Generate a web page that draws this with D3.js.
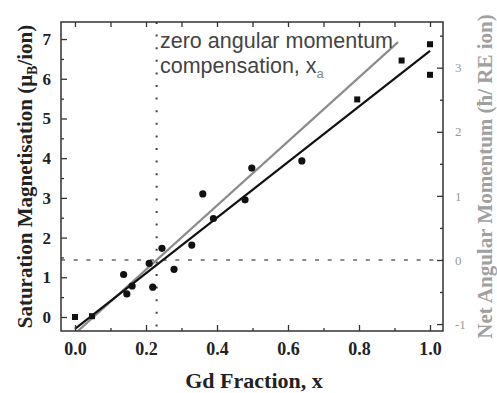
<!DOCTYPE html>
<html>
<head>
<meta charset="utf-8">
<script src="https://cdn.jsdelivr.net/npm/d3@7"></script>
<style>
  html, body { margin: 0; padding: 0; background: #fff; }
  svg { display: block; }
</style>
</head>
<body>
<svg id="chart" width="497" height="393"></svg>
<script>
// Gd fraction and measured saturation magnetisation (μB/ion)
const circleX = [0.137, 0.146, 0.161, 0.209, 0.219, 0.245, 0.279, 0.329, 0.360, 0.390, 0.479, 0.498, 0.639];
const circleY = [1.07, 0.58, 0.78, 1.35, 0.75, 1.73, 1.20, 1.81, 3.10, 2.48, 2.95, 3.75, 3.93];
const squareX = [0.0, 0.048, 0.795, 0.920, 1.0, 1.0];
const squareY = [0.0, 0.02, 5.48, 6.46, 6.87, 6.10];

// Linear fit of the magnetisation (left axis)
const fitX = [0.0, 1.0];
const fitY = [-0.30, 6.70];

// Net angular momentum (right axis)
const momX = [0.0, 0.91];
const momJ = [-1.15, 3.40];

// Compensation point
const xA = 0.23;

const xTicks = [0, 0.2, 0.4, 0.6, 0.8, 1.0];
const xMinorTicks = [0.1, 0.3, 0.5, 0.7, 0.9];
const yLeftTicks = [0, 1, 2, 3, 4, 5, 6, 7];
const yRightTicks = [-1, 0, 1, 2, 3];

const pL = 61, pR = 443, pT = 22, pB = 331;

const x = d3.scaleLinear().domain([-0.0394, 1.0366]).range([pL, pR]);
const yL = d3.scaleLinear().domain([-0.353, 7.43]).range([pB, pT]);
const yR = d3.scaleLinear().domain([-1.108, 3.713]).range([pB, pT]);

const svg = d3.select("#chart");
const axisCol = "#333";
const serif = "'Liberation Serif', 'Times New Roman', serif";
const sans = "'Liberation Sans', Arial, sans-serif";

svg.append("defs").append("clipPath").attr("id", "plotclip")
  .append("rect").attr("x", pL).attr("y", pT)
  .attr("width", pR - pL).attr("height", pB - pT);

const plot = svg.append("g").attr("clip-path", "url(#plotclip)");

// Reference lines: zero net momentum and compensation composition
plot.append("line")
  .attr("x1", pL).attr("x2", pR)
  .attr("y1", yR(0)).attr("y2", yR(0))
  .attr("stroke", "#666").attr("stroke-width", 1.6)
  .attr("stroke-dasharray", "4,8.7");
plot.append("line")
  .attr("x1", x(xA)).attr("x2", x(xA))
  .attr("y1", pT).attr("y2", pB)
  .attr("stroke", "#444").attr("stroke-width", 2)
  .attr("stroke-dasharray", "2,10.6");

// Angular momentum line (grey) and magnetisation fit (black)
plot.append("path")
  .datum(momX.map((v, i) => [v, momJ[i]]))
  .attr("d", d3.line().x(d => x(d[0])).y(d => yR(d[1])))
  .attr("fill", "none").attr("stroke", "#8c8c8c").attr("stroke-width", 2.2);
plot.append("path")
  .datum(fitX.map((v, i) => [v, fitY[i]]))
  .attr("d", d3.line().x(d => x(d[0])).y(d => yL(d[1])))
  .attr("fill", "none").attr("stroke", "#111").attr("stroke-width", 2.2);

// Data points
plot.selectAll("circle.pt").data(circleX.map((v, i) => [v, circleY[i]]))
  .join("circle").attr("class", "pt")
  .attr("cx", d => x(d[0])).attr("cy", d => yL(d[1]))
  .attr("r", 3.6).attr("fill", "#111");
plot.selectAll("rect.pt").data(squareX.map((v, i) => [v, squareY[i]]))
  .join("rect").attr("class", "pt")
  .attr("x", d => x(d[0]) - 3).attr("y", d => yL(d[1]) - 3)
  .attr("width", 6).attr("height", 6).attr("fill", "#111");

// Frame
svg.append("rect")
  .attr("x", pL).attr("y", pT).attr("width", pR - pL).attr("height", pB - pT)
  .attr("fill", "none").attr("stroke", axisCol).attr("stroke-width", 1.5);

function styleAxis(g) {
  g.select(".domain").remove();
  g.selectAll(".tick line").attr("stroke", axisCol).attr("stroke-width", 1.3);
}

// Bottom axis
svg.append("g").attr("transform", `translate(0,${pB})`)
  .call(d3.axisBottom(x).tickValues(xTicks).tickSizeInner(-6).tickPadding(11)
    .tickFormat(d3.format(".1f")))
  .call(styleAxis)
  .call(g => g.selectAll("text").attr("font-family", serif).attr("font-weight", "bold")
    .attr("font-size", 18).attr("fill", "#222"));
svg.append("g").attr("transform", `translate(0,${pB})`)
  .call(d3.axisBottom(x).tickValues(xMinorTicks).tickSizeInner(-3).tickFormat(""))
  .call(styleAxis);
// Top axis
svg.append("g").attr("transform", `translate(0,${pT})`)
  .call(d3.axisTop(x).tickValues(xTicks.concat(xMinorTicks)).tickSizeInner(-5).tickFormat(""))
  .call(styleAxis);

// Left axis
svg.append("g").attr("transform", `translate(${pL},0)`)
  .call(d3.axisLeft(yL).tickValues(yLeftTicks).tickSizeInner(-6).tickPadding(10)
    .tickFormat(d3.format("d")))
  .call(styleAxis)
  .call(g => g.selectAll("text").attr("font-family", serif).attr("font-weight", "bold")
    .attr("font-size", 17).attr("fill", "#222"));
svg.append("g").attr("transform", `translate(${pL},0)`)
  .call(d3.axisLeft(yL).tickValues(yLeftTicks.map(v => v + 0.5).filter(v => v < 7.4))
    .tickSizeInner(-3).tickFormat(""))
  .call(styleAxis);

// Right axis
svg.append("g").attr("transform", `translate(${pR},0)`)
  .call(d3.axisRight(yR).tickValues(yRightTicks).tickSizeInner(-6).tickPadding(12)
    .tickFormat(d3.format("d")))
  .call(styleAxis)
  .call(g => g.selectAll("text").attr("font-family", serif)
    .attr("font-size", 13).attr("fill", "#999").text(d => d < 0 ? "-" + Math.abs(d) : d));
svg.append("g").attr("transform", `translate(${pR},0)`)
  .call(d3.axisRight(yR).tickValues([-0.5, 0.5, 1.5, 2.5, 3.5]).tickSizeInner(-3).tickFormat(""))
  .call(styleAxis);

// Axis titles
svg.append("text")
  .attr("x", (pL + pR) / 2 + 2).attr("y", 388)
  .attr("text-anchor", "middle")
  .attr("font-family", serif).attr("font-weight", "bold").attr("font-size", 22).attr("fill", "#222")
  .text("Gd Fraction, x");

const lt = svg.append("text")
  .attr("transform", `translate(32,${(pT + pB) / 2}) rotate(-90)`)
  .attr("text-anchor", "middle")
  .attr("font-family", serif).attr("font-weight", "bold").attr("font-size", 21).attr("fill", "#222");
lt.append("tspan").text("Saturation Magnetisation (μ");
lt.append("tspan").attr("font-size", 14).attr("dy", 5).text("B");
lt.append("tspan").attr("dy", -5).text("/ion)");

svg.append("text")
  .attr("transform", `translate(492,${(pT + pB) / 2}) rotate(-90)`)
  .attr("text-anchor", "middle")
  .attr("font-family", serif).attr("font-weight", "bold").attr("font-size", 21).attr("fill", "#a0a0a0")
  .text("Net Angular Momentum (ħ/ RE ion)");

// Annotation for the compensation composition
const ann = svg.append("g").attr("font-family", sans).attr("font-size", 21.5).attr("fill", "#444");
ann.append("text").attr("x", 160).attr("y", 48).text("zero angular momentum");
const a2 = ann.append("text").attr("x", 160).attr("y", 73);
a2.append("tspan").text("compensation, x");
a2.append("tspan").attr("font-size", 13).attr("dy", 5).attr("fill", "#888").text("a");
</script>
</body>
</html>
